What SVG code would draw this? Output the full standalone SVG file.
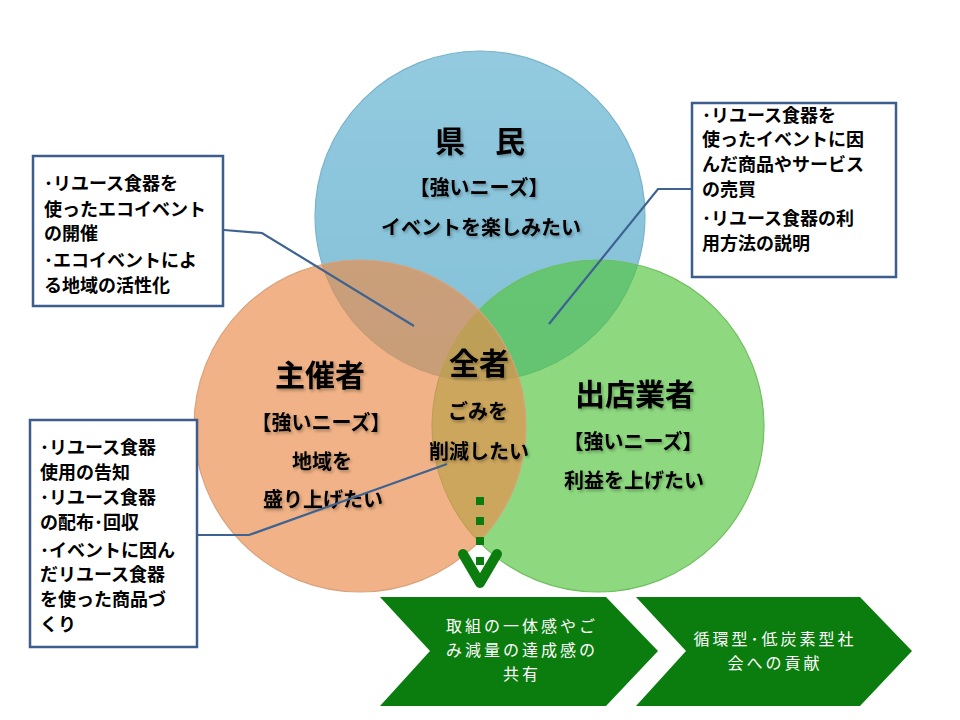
<svg xmlns="http://www.w3.org/2000/svg" width="960" height="720" viewBox="0 0 960 720">
<defs>
<style>
.c{stroke-width:1.2}
.t{font-family:"Noto Sans CJK JP","Liberation Sans",sans-serif;font-weight:bold;fill:#000;text-anchor:middle}
.big{font-size:30px}
.mid{font-size:20px}
.bx{fill:#fff;stroke:#3d5d8c;stroke-width:2.5}
.bt{font-family:"Noto Sans CJK JP","Liberation Sans",sans-serif;font-weight:bold;font-size:18px;fill:#000}
.ln{fill:none;stroke:#3e6392;stroke-width:2.2}
.chev{fill:#0b7d0e}
.ct{font-family:"Noto Sans CJK JP","Liberation Sans",sans-serif;font-size:16px;letter-spacing:3px;fill:#fff;text-anchor:middle}
</style>
<filter id="sh" x="-10%" y="-20%" width="130%" height="150%">
<feDropShadow dx="1.5" dy="2" stdDeviation="1.5" flood-color="#000" flood-opacity="0.3"/>
</filter>
<linearGradient id="gb" x1="0" y1="0" x2="0" y2="1">
<stop offset="0" stop-color="#93cae0"/>
<stop offset="1" stop-color="#82c0d6"/>
</linearGradient>
</defs>
<rect width="960" height="720" fill="#fff"/>

<g id="circle-kenmin">
<circle cx="480" cy="216" r="165" fill="url(#gb)" stroke="#7ab4c9" class="c"/>
</g>
<g id="circle-shutten">
<circle cx="598" cy="426" r="166" fill="#54c53c" fill-opacity="0.66" stroke="#6fbf60" class="c"/>
</g>
<g id="circle-shusai">
<circle cx="360" cy="426" r="166" fill="#e98e4d" fill-opacity="0.68" stroke="#d9a27c" class="c"/>
</g>

<g id="labels" filter="url(#sh)">
<text class="t big" x="480" y="152">県　民</text>
<text class="t mid" x="479" y="195">【強いニーズ】</text>
<text class="t mid" x="481" y="235">イベントを楽しみたい</text>
<text class="t big" x="320" y="386">主催者</text>
<text class="t mid" x="321" y="430">【強いニーズ】</text>
<text class="t mid" x="322" y="469">地域を</text>
<text class="t mid" x="323" y="507">盛り上げたい</text>
<text class="t big" x="479" y="374">全者</text>
<text class="t mid" x="478" y="419">ごみを</text>
<text class="t mid" x="479" y="459">削減したい</text>
<text class="t big" x="635" y="405">出店業者</text>
<text class="t mid" x="633" y="449">【強いニーズ】</text>
<text class="t mid" x="634" y="488">利益を上げたい</text>
</g>

<g id="connectors">
<polyline class="ln" points="224,230 262,233 414,326"/>
<polyline class="ln" points="692,189 658,189 549,324"/>
<polyline class="ln" points="197,535 249,535 447,464"/>
<line x1="480" y1="497" x2="480" y2="566" stroke="#0b7d0e" stroke-width="8" stroke-dasharray="8 12"/>
<polyline points="463,554 480,583 497,554" fill="none" stroke="#0b7d0e" stroke-width="10" stroke-linecap="round" stroke-linejoin="round"/>
</g>

<g id="box-shusai-top">
<rect class="bx" x="33" y="156" width="190" height="150"/>
<text class="bt" x="44" y="190">･リユース食器を</text>
<text class="bt" x="44" y="216">使ったエコイベント</text>
<text class="bt" x="44" y="240">の開催</text>
<text class="bt" x="44" y="267">･エコイベントによ</text>
<text class="bt" x="44" y="292">る地域の活性化</text>
</g>

<g id="box-shutten">
<rect class="bx" x="692" y="103" width="204" height="174"/>
<text class="bt" x="702" y="122">･リユース食器を</text>
<text class="bt" x="702" y="146">使ったイベントに因</text>
<text class="bt" x="702" y="171">んだ商品やサービス</text>
<text class="bt" x="702" y="196">の売買</text>
<text class="bt" x="702" y="225">･リユース食器の利</text>
<text class="bt" x="702" y="250">用方法の説明</text>
</g>

<g id="box-shusai-bottom">
<rect class="bx" x="30" y="420" width="167" height="227"/>
<text class="bt" x="40" y="454">･リユース食器</text>
<text class="bt" x="40" y="479">使用の告知</text>
<text class="bt" x="40" y="504">･リユース食器</text>
<text class="bt" x="40" y="529">の配布･回収</text>
<text class="bt" x="40" y="557">･イベントに因ん</text>
<text class="bt" x="40" y="581">だリユース食器</text>
<text class="bt" x="40" y="606">を使った商品づ</text>
<text class="bt" x="40" y="631">くり</text>
</g>

<g id="chevron-1">
<polygon class="chev" points="380,597 606,597 658,651 606,706 380,706 430,651"/>
<text class="ct" x="522" y="632">取組の一体感やご</text>
<text class="ct" x="522" y="656">み減量の達成感の</text>
<text class="ct" x="522" y="680">共有</text>
</g>

<g id="chevron-2">
<polygon class="chev" points="636,597 860,597 912,651 860,706 636,706 686,651"/>
<text class="ct" x="775" y="645">循環型･低炭素型社</text>
<text class="ct" x="775" y="669">会への貢献</text>
</g>
</svg>
